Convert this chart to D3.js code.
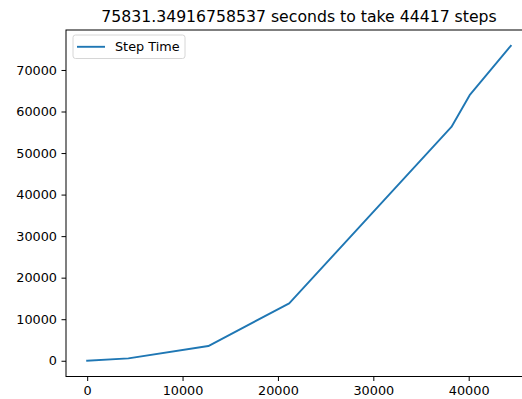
<!DOCTYPE html>
<html>
<head>
<meta charset="utf-8">
<script src="https://cdn.jsdelivr.net/npm/d3@7"></script>
<style>
  html, body { margin: 0; padding: 0; background: #fff; overflow: hidden; }
  svg { display: block; font-family: "DejaVu Sans", sans-serif; }
</style>
</head>
<body>
<svg id="chart" width="522" height="399"></svg>
<script>
// Cumulative wall-clock time (seconds) against training step
const steps = [0, 4320, 12700, 21180, 38190, 40100, 44417];
const seconds = [0, 580, 3540, 13810, 56290, 63920, 75831.34916758537];
const xTicks = [0, 10000, 20000, 30000, 40000];
const yTicks = [0, 10000, 20000, 30000, 40000, 50000, 60000, 70000];
const seriesName = "Step Time";
const totalSeconds = 75831.34916758537;
const totalSteps = 44417;

const svg = d3.select("#chart");
const margin = { left: 66, top: 30, right: 532, bottom: 376.5 };

// Matplotlib-style 5% padding around the data range
const xMin = d3.min(steps), xMax = d3.max(steps);
const yMin = d3.min(seconds), yMax = d3.max(seconds);
const xPad = (xMax - xMin) * 0.05, yPad = (yMax - yMin) * 0.05;

const x = d3.scaleLinear().domain([xMin - xPad, xMax + xPad]).range([margin.left, margin.right]);
const y = d3.scaleLinear().domain([yMin - yPad, yMax + yPad]).range([margin.bottom, margin.top]);

const fontSize = 12.8;

// Data line
svg.append("path")
  .datum(steps.map((s, i) => [s, seconds[i]]))
  .attr("fill", "none")
  .attr("stroke", "#1f77b4")
  .attr("stroke-width", 1.9)
  .attr("stroke-linejoin", "round")
  .attr("stroke-linecap", "square")
  .attr("d", d3.line().x(d => x(d[0])).y(d => y(d[1])));

// Axes
const xAxis = svg.append("g")
  .attr("transform", `translate(0,${margin.bottom})`)
  .call(d3.axisBottom(x).tickValues(xTicks).tickFormat(d3.format("d")).tickSize(4.5).tickPadding(4.5));
const yAxis = svg.append("g")
  .attr("transform", `translate(${margin.left},0)`)
  .call(d3.axisLeft(y).tickValues(yTicks).tickFormat(d3.format("d")).tickSize(4.5).tickPadding(4.5));

[xAxis, yAxis].forEach(g => {
  g.select(".domain").remove();
  g.selectAll(".tick line").attr("stroke", "#000").attr("stroke-width", 1);
  g.selectAll(".tick text")
    .attr("fill", "#000")
    .style("font-family", "DejaVu Sans")
    .style("font-size", fontSize + "px");
});

// Frame
svg.append("rect")
  .attr("x", margin.left)
  .attr("y", margin.top)
  .attr("width", margin.right - margin.left)
  .attr("height", margin.bottom - margin.top)
  .attr("fill", "none")
  .attr("stroke", "#000")
  .attr("stroke-width", 1);

// Title
svg.append("text")
  .attr("x", (margin.left + margin.right) / 2)
  .attr("y", margin.top - 8)
  .attr("text-anchor", "middle")
  .style("font-size", "15.7px")
  .attr("fill", "#000")
  .text(`${totalSeconds} seconds to take ${totalSteps} steps`);

// Legend
const legend = svg.append("g").attr("transform", `translate(${margin.left + 7},${margin.top + 5})`);
legend.append("rect")
  .attr("x", 0).attr("y", 0)
  .attr("width", 112).attr("height", 23.5)
  .attr("rx", 2.5)
  .attr("fill", "#fff").attr("fill-opacity", 0.8)
  .attr("stroke", "#d6d6d6").attr("stroke-width", 1);
legend.append("line")
  .attr("x1", 4).attr("x2", 32)
  .attr("y1", 11.8).attr("y2", 11.8)
  .attr("stroke", "#1f77b4").attr("stroke-width", 1.9);
legend.append("text")
  .attr("x", 42).attr("y", 16.3)
  .style("font-size", fontSize + "px")
  .attr("fill", "#000")
  .text(seriesName);
</script>
</body>
</html>
